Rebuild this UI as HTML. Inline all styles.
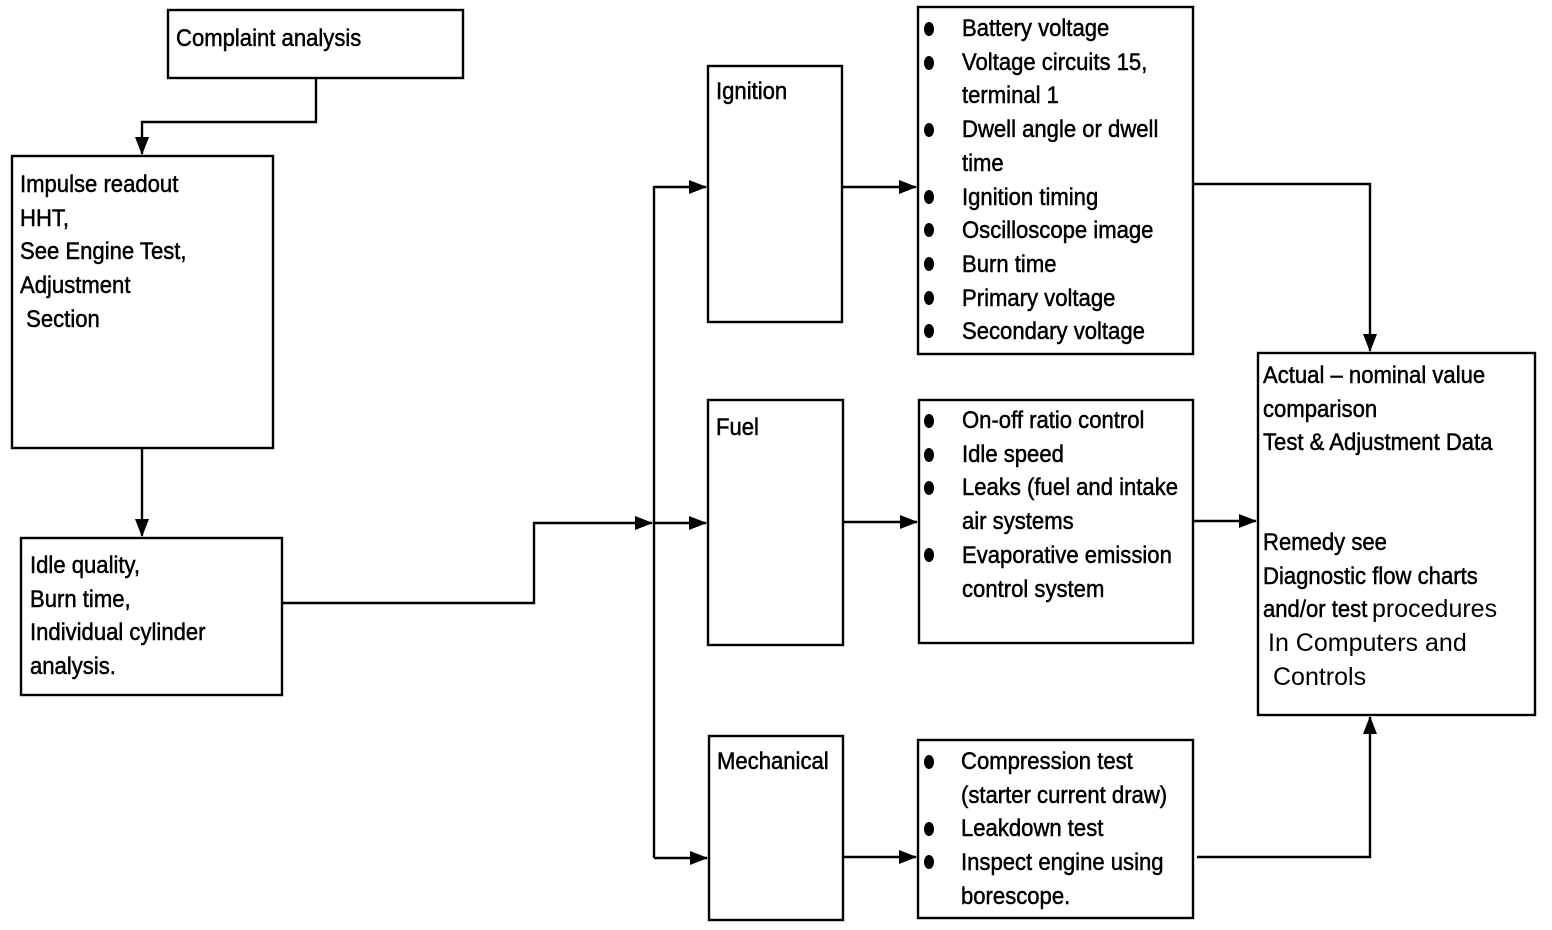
<!DOCTYPE html>
<html><head><meta charset="utf-8">
<style>
html,body{margin:0;padding:0;background:#fff;}
#c{position:relative;width:1552px;height:930px;overflow:hidden;background:#fff;}
svg{position:absolute;left:0;top:0;}
.t{position:absolute;font-family:"Liberation Sans",Arial,sans-serif;font-size:24px;line-height:33.7px;color:#000;white-space:pre;transform:scaleX(0.92);transform-origin:0 0;-webkit-text-stroke:0.5px #000;}
.n{transform:none;font-size:25px;-webkit-text-stroke:0;}
</style></head><body><div id="c">
<svg width="1552" height="930" viewBox="0 0 1552 930">
<defs><marker id="a" markerWidth="18" markerHeight="14" refX="17" refY="7" orient="auto" markerUnits="userSpaceOnUse"><path d="M0,0 L18,7 L0,14 z" fill="#000"/></marker></defs>
<g fill="none" stroke="#000" stroke-width="2.4">
<rect x="168" y="10" width="295" height="68"/>
<rect x="12" y="156" width="261" height="292"/>
<rect x="21" y="538" width="261" height="157"/>
<rect x="708" y="66" width="134" height="256"/>
<rect x="708" y="400" width="135" height="245"/>
<rect x="709" y="736" width="134" height="184"/>
<rect x="918" y="7" width="275" height="347"/>
<rect x="919" y="400" width="274" height="243"/>
<rect x="918" y="740" width="275" height="178"/>
<rect x="1258" y="353" width="277" height="362"/>
<polyline points="316,78 316,122 142,122 142,154" marker-end="url(#a)"/>
<polyline points="142,448 142,536" marker-end="url(#a)"/>
<polyline points="282,603 534,603 534,523 652,523" marker-end="url(#a)"/>
<line x1="654" y1="186" x2="654" y2="858"/>
<polyline points="654,187 706,187" marker-end="url(#a)"/>
<polyline points="654,523 706,523" marker-end="url(#a)"/>
<polyline points="654,858 707,858" marker-end="url(#a)"/>
<polyline points="842,187 916,187" marker-end="url(#a)"/>
<polyline points="843,522 917,522" marker-end="url(#a)"/>
<polyline points="843,857 916,857" marker-end="url(#a)"/>
<polyline points="1193,184 1370,184 1370,351" marker-end="url(#a)"/>
<polyline points="1193,521 1256,521" marker-end="url(#a)"/>
<polyline points="1197,857 1370,857 1370,717" marker-end="url(#a)"/>
</g>
<g fill="#000">
<ellipse cx="929" cy="29" rx="5" ry="7"/>
<ellipse cx="929" cy="63" rx="5" ry="7"/>
<ellipse cx="929" cy="130" rx="5" ry="7"/>
<ellipse cx="929" cy="197" rx="5" ry="7"/>
<ellipse cx="929" cy="230" rx="5" ry="7"/>
<ellipse cx="929" cy="264" rx="5" ry="7"/>
<ellipse cx="929" cy="298" rx="5" ry="7"/>
<ellipse cx="929" cy="331" rx="5" ry="7"/>
<ellipse cx="929" cy="421" rx="5" ry="7"/>
<ellipse cx="929" cy="455" rx="5" ry="7"/>
<ellipse cx="929" cy="488" rx="5" ry="7"/>
<ellipse cx="929" cy="555" rx="5" ry="7"/>
<ellipse cx="929" cy="762" rx="5" ry="7"/>
<ellipse cx="929" cy="829" rx="5" ry="7"/>
<ellipse cx="929" cy="862" rx="5" ry="7"/>
</g>
</svg>
<div class="t" style="left:176px;top:22px;">Complaint analysis</div>
<div class="t" style="left:20px;top:168px;">Impulse readout
HHT,
See Engine Test,
Adjustment
 Section</div>
<div class="t" style="left:30px;top:549px;">Idle quality,
Burn time,
Individual cylinder
analysis.</div>
<div class="t" style="left:716px;top:75px;">Ignition</div>
<div class="t" style="left:716px;top:411px;">Fuel</div>
<div class="t" style="left:717px;top:745px;">Mechanical</div>
<div class="t" style="left:962px;top:12px;">Battery voltage
Voltage circuits 15,
terminal 1
Dwell angle or dwell
time
Ignition timing
Oscilloscope image
Burn time
Primary voltage
Secondary voltage</div>
<div class="t" style="left:962px;top:404px;">On-off ratio control
Idle speed
Leaks (fuel and intake
air systems
Evaporative emission
control system</div>
<div class="t" style="left:961px;top:745px;">Compression test
(starter current draw)
Leakdown test
Inspect engine using
borescope.</div>
<div class="t" style="left:1263px;top:359px;">Actual – nominal value
comparison
Test &amp; Adjustment Data</div>
<div class="t" style="left:1263px;top:526px;">Remedy see
Diagnostic flow charts
and/or test</div>
<div class="t n" style="left:1372px;top:593px;">procedures</div>
<div class="t n" style="left:1268px;top:627px;">In Computers and</div>
<div class="t n" style="left:1273px;top:661px;">Controls</div>
</div></body></html>
